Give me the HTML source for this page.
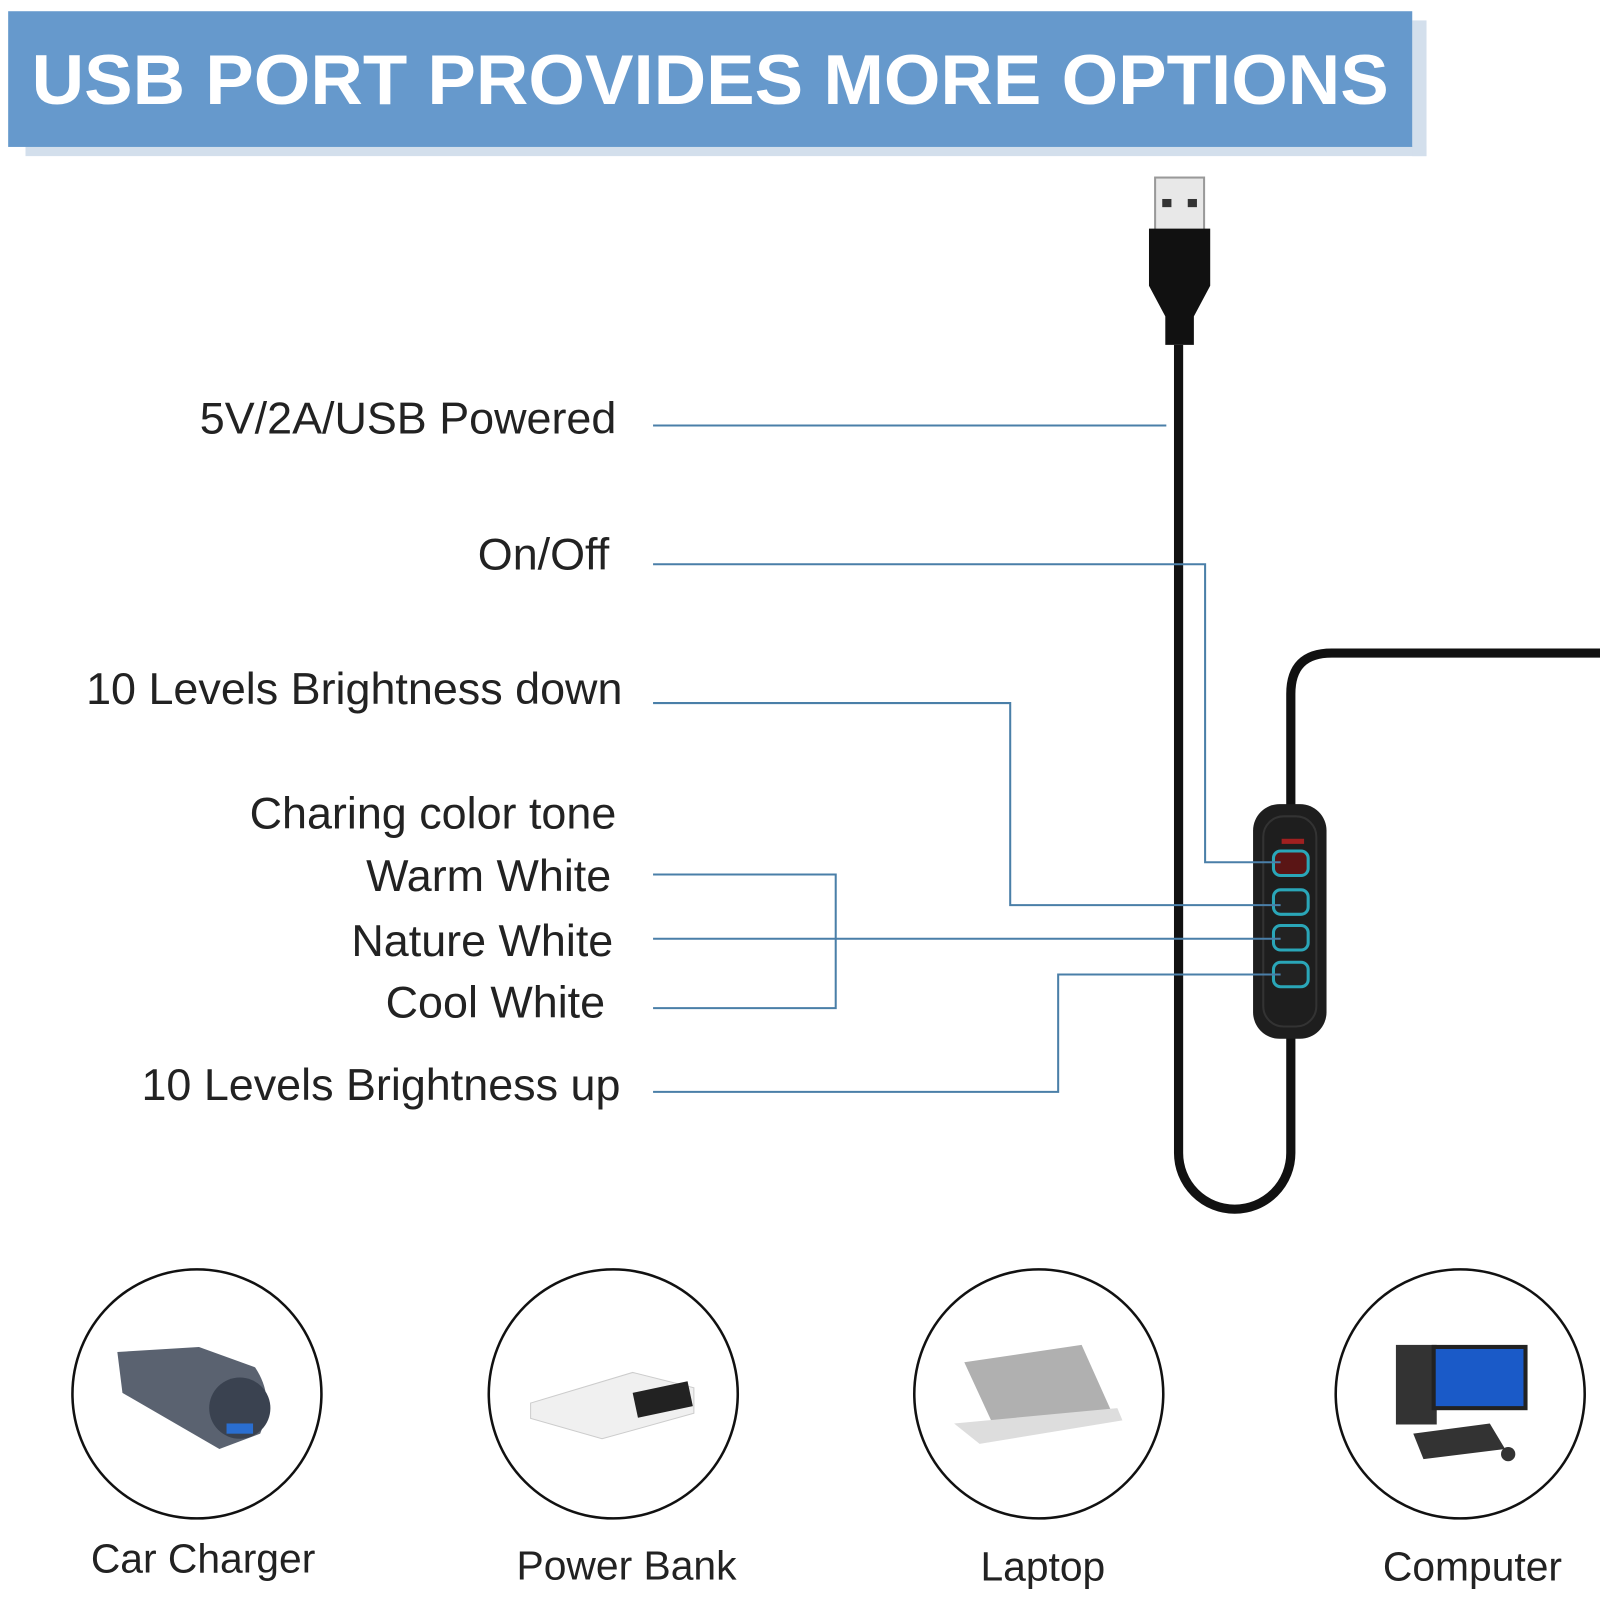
<!DOCTYPE html>
<html><head><meta charset="utf-8"><style>
html,body{margin:0;padding:0;background:#fff}
svg{display:block}
text{font-family:"Liberation Sans",sans-serif}
</style></head><body>
<svg width="1600" height="1600" viewBox="0 0 1568 1568">
<rect x="25" y="143" width="1373" height="10" fill="#d3dfec"/>
<rect x="1384" y="20" width="14" height="133" fill="#d3dfec"/>
<rect x="8" y="11" width="1376" height="133" fill="#6699cc"/>
<text x="696" y="102" text-anchor="middle" font-size="69" font-weight="bold" fill="#fff" textLength="1330" lengthAdjust="spacingAndGlyphs">USB PORT PROVIDES MORE OPTIONS</text>

<!-- USB plug -->
<rect x="1132" y="174" width="48" height="52" fill="#e8e8e8" stroke="#999" stroke-width="2"/>
<rect x="1139" y="195" width="9" height="8" fill="#333"/><rect x="1164" y="195" width="9" height="8" fill="#333"/>
<path d="M1126 224 H1186 V280 L1170 310 V338 H1142 V310 L1126 280 Z" fill="#111"/>
<!-- cable -->
<path d="M1155 338 V1130 A55 55 0 0 0 1265 1130 V680 Q1265 640 1305 640 H1570" fill="none" stroke="#111" stroke-width="9"/>
<!-- controller -->
<rect x="1228" y="788" width="72" height="230" rx="26" fill="#1e1e1e"/>
<rect x="1238" y="800" width="52" height="206" rx="20" fill="none" stroke="#333" stroke-width="2"/>
<rect x="1256" y="822" width="22" height="5" fill="#a02020"/>
<g fill="#222" stroke="#2aa6b8" stroke-width="3">
<rect x="1248" y="834" width="34" height="24" rx="7" fill="#5a1515"/>
<rect x="1248" y="872" width="34" height="24" rx="7"/>
<rect x="1248" y="907" width="34" height="24" rx="7"/>
<rect x="1248" y="943" width="34" height="24" rx="7"/>
</g>
<!-- leader lines -->
<g fill="none" stroke="#4a7fa8" stroke-width="2">
<path d="M640 417 H1143"/>
<path d="M640 553 H1181 V845 H1255"/>
<path d="M640 689 H990 V887 H1255"/>
<path d="M640 857 H819 V988 H640"/>
<path d="M640 920 H1255"/>
<path d="M640 1070 H1037 V955 H1255"/>
</g>
<g font-size="44" fill="#222" text-anchor="end">
<text x="604" y="425">5V/2A/USB Powered</text>
<text x="597" y="558">On/Off</text>
<text x="610" y="690">10 Levels Brightness down</text>
<text x="604" y="812">Charing color tone</text>
<text x="599" y="873">Warm White</text>
<text x="601" y="937">Nature White</text>
<text x="593" y="997">Cool White</text>
<text x="608" y="1078">10 Levels Brightness up</text>
</g>
<!-- circles -->
<g fill="none" stroke="#111" stroke-width="2.5">
<circle cx="193" cy="1366" r="122"/>
<circle cx="601" cy="1366" r="122"/>
<circle cx="1018" cy="1366" r="122"/>
<circle cx="1431" cy="1366" r="122"/>
</g>
<!-- icons -->
<path d="M115 1325 L195 1320 L250 1340 Q270 1370 255 1405 L215 1420 L120 1365 Z" fill="#5a6270"/>
<circle cx="235" cy="1380" r="30" fill="#3a4250"/>
<rect x="222" y="1395" width="26" height="10" fill="#2a6ed0"/>
<path d="M520 1375 L620 1345 L680 1360 L680 1385 L590 1410 L520 1390 Z" fill="#f0f0f0" stroke="#ccc"/>
<rect x="620" y="1365" width="55" height="25" fill="#222" transform="rotate(-12 620 1365)"/>
<path d="M945 1335 L1060 1318 L1090 1385 L975 1400 Z" fill="#b0b0b0"/>
<path d="M935 1395 L1095 1380 L1100 1392 L960 1415 Z" fill="#ddd"/>
<rect x="1368" y="1318" width="40" height="78" fill="#333"/>
<rect x="1405" y="1320" width="90" height="60" fill="#1a5ac8" stroke="#222" stroke-width="4"/>
<path d="M1385 1405 L1460 1395 L1475 1420 L1395 1430 Z" fill="#333"/>
<circle cx="1478" cy="1425" r="7" fill="#333"/>
<g font-size="40" fill="#222" text-anchor="middle">
<text x="199" y="1541">Car Charger</text>
<text x="614" y="1548">Power Bank</text>
<text x="1022" y="1549">Laptop</text>
<text x="1443" y="1549">Computer</text>
</g>
</svg>
</body></html>
